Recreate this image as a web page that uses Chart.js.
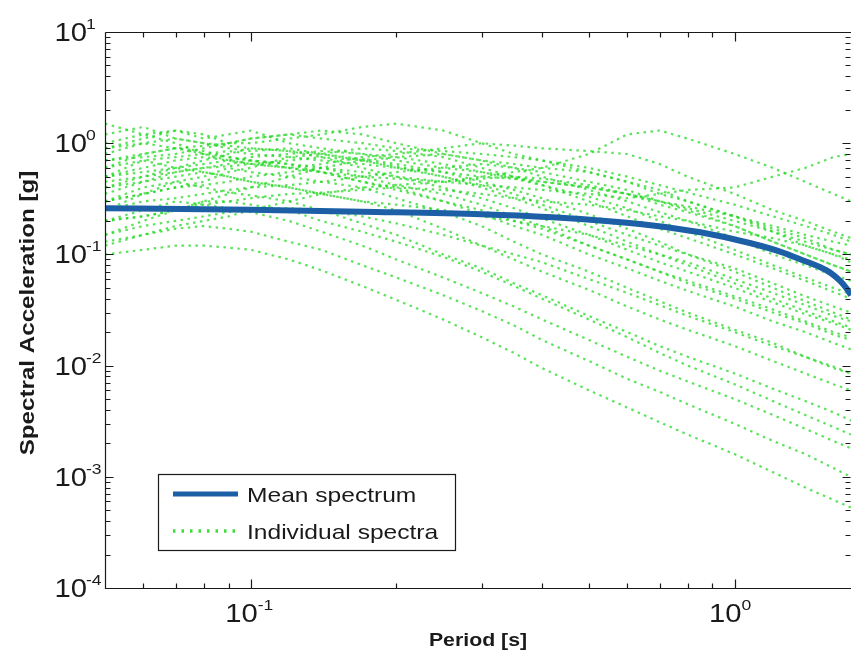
<!DOCTYPE html>
<html>
<head>
<meta charset="utf-8">
<script src="https://cdn.jsdelivr.net/npm/chart.js@4.4.1/dist/chart.umd.min.js"></script>
<style>
  html, body { margin: 0; padding: 0; background: #fff; }
  #wrap { width: 852px; height: 657px; }
</style>
</head>
<body>
<div id="wrap"><canvas id="spectraChart" width="852" height="657"></canvas></div>
<script>
// ==========================================
// DATA
// ==========================================
const periods = [0.05, 0.06, 0.07, 0.08, 0.09, 0.1, 0.12, 0.14, 0.17, 0.2, 0.25, 0.3,
                 0.35, 0.4, 0.5, 0.6, 0.7, 0.8, 1.0, 1.2, 1.4, 1.6, 1.74];

// individual records, spectral acceleration [g] at each period
const rec01 = [0.10, 0.11, 0.12, 0.12, 0.115, 0.11, 0.09, 0.072, 0.052, 0.039, 0.026, 0.018, 0.013, 0.0095, 0.006, 0.0042, 0.0031, 0.0024, 0.0016, 0.0011, 0.0008, 0.00062, 0.00053];
const rec02 = [0.13, 0.15, 0.17, 0.18, 0.17, 0.16, 0.13, 0.11, 0.08, 0.062, 0.043, 0.031, 0.023, 0.017, 0.011, 0.0076, 0.0058, 0.0045, 0.003, 0.0021, 0.0016, 0.0012, 0.001];
const rec03 = [0.2, 0.25, 0.3, 0.28, 0.26, 0.24, 0.2, 0.16, 0.12, 0.09, 0.062, 0.045, 0.034, 0.026, 0.017, 0.012, 0.009, 0.0072, 0.005, 0.0036, 0.0027, 0.0021, 0.0018];
const rec04 = [0.3, 0.4, 0.45, 0.4, 0.36, 0.34, 0.3, 0.25, 0.19, 0.15, 0.1, 0.075, 0.055, 0.043, 0.028, 0.02, 0.015, 0.012, 0.0085, 0.0062, 0.0048, 0.0038, 0.0032];
const rec05 = [0.5, 0.7, 0.6, 0.55, 0.5, 0.45, 0.4, 0.35, 0.3, 0.25, 0.17, 0.12, 0.09, 0.07, 0.048, 0.034, 0.026, 0.021, 0.015, 0.011, 0.0085, 0.0068, 0.006];
const rec06 = [0.25, 0.35, 0.45, 0.5, 0.6, 0.55, 0.5, 0.45, 0.4, 0.32, 0.24, 0.18, 0.13, 0.1, 0.07, 0.05, 0.038, 0.03, 0.021, 0.016, 0.012, 0.0098, 0.0085];
const rec07 = [0.8, 1.0, 0.9, 0.8, 0.75, 0.7, 0.65, 0.55, 0.45, 0.38, 0.3, 0.23, 0.18, 0.15, 0.1, 0.075, 0.058, 0.047, 0.034, 0.025, 0.02, 0.016, 0.014];
const rec08 = [0.4, 0.5, 0.6, 0.7, 0.8, 0.9, 0.85, 0.75, 0.6, 0.5, 0.4, 0.32, 0.26, 0.21, 0.15, 0.11, 0.085, 0.07, 0.05, 0.037, 0.029, 0.024, 0.021];
const rec09 = [1.2, 1.4, 1.1, 1.0, 0.9, 0.85, 0.9, 0.8, 0.7, 0.6, 0.5, 0.42, 0.35, 0.28, 0.2, 0.15, 0.12, 0.1, 0.075, 0.055, 0.042, 0.034, 0.03];
const rec10 = [0.3, 0.35, 0.4, 0.45, 0.55, 0.6, 0.75, 0.8, 0.9, 0.85, 0.75, 0.6, 0.5, 0.42, 0.3, 0.22, 0.17, 0.14, 0.1, 0.075, 0.058, 0.046, 0.04];
const rec11 = [0.6, 0.8, 0.9, 0.95, 1.0, 1.1, 1.2, 1.3, 1.2, 1.0, 0.8, 0.7, 0.6, 0.5, 0.38, 0.3, 0.24, 0.2, 0.14, 0.1, 0.08, 0.065, 0.058];
const rec12 = [0.9, 1.1, 1.3, 1.2, 1.0, 1.0, 1.1, 1.2, 1.4, 1.5, 1.3, 1.0, 0.8, 0.7, 0.55, 0.45, 0.35, 0.3, 0.22, 0.16, 0.12, 0.1, 0.085];
const rec13 = [0.15, 0.2, 0.25, 0.3, 0.35, 0.4, 0.5, 0.6, 0.7, 0.75, 0.8, 0.7, 0.65, 0.6, 0.55, 0.45, 0.38, 0.3, 0.22, 0.17, 0.14, 0.11, 0.1];
const rec14 = [0.5, 0.6, 0.7, 0.75, 0.7, 0.65, 0.6, 0.65, 0.75, 0.8, 0.9, 1.0, 0.95, 0.9, 0.85, 0.8, 0.65, 0.5, 0.35, 0.25, 0.2, 0.16, 0.14];
const rec15 = [1.5, 1.2, 1.0, 0.8, 0.7, 0.65, 0.6, 0.55, 0.5, 0.48, 0.45, 0.5, 0.55, 0.6, 0.8, 1.2, 1.3, 1.1, 0.8, 0.6, 0.45, 0.35, 0.3];
const rec16 = [0.3, 0.35, 0.4, 0.42, 0.45, 0.5, 0.55, 0.6, 0.55, 0.5, 0.45, 0.42, 0.4, 0.38, 0.35, 0.32, 0.35, 0.38, 0.4, 0.5, 0.6, 0.75, 0.8];
const rec17 = [0.2, 0.22, 0.25, 0.28, 0.3, 0.32, 0.35, 0.36, 0.38, 0.4, 0.38, 0.35, 0.32, 0.3, 0.28, 0.25, 0.22, 0.2, 0.16, 0.14, 0.12, 0.1, 0.09];
const rec18 = [0.7, 0.8, 0.9, 0.85, 0.75, 0.7, 0.65, 0.6, 0.5, 0.42, 0.35, 0.28, 0.22, 0.18, 0.12, 0.09, 0.07, 0.055, 0.04, 0.03, 0.024, 0.019, 0.017];
const rec19 = [0.4, 0.45, 0.5, 0.55, 0.5, 0.45, 0.4, 0.35, 0.3, 0.28, 0.25, 0.22, 0.2, 0.18, 0.15, 0.12, 0.1, 0.085, 0.06, 0.045, 0.035, 0.028, 0.025];
const rec20 = [1.0, 1.2, 1.3, 1.1, 1.2, 1.3, 1.0, 0.9, 0.8, 0.7, 0.6, 0.55, 0.5, 0.45, 0.4, 0.35, 0.28, 0.24, 0.18, 0.13, 0.1, 0.08, 0.07];
const rec21 = [0.35, 0.45, 0.55, 0.6, 0.65, 0.7, 0.6, 0.55, 0.45, 0.4, 0.3, 0.25, 0.2, 0.17, 0.12, 0.09, 0.07, 0.058, 0.042, 0.032, 0.025, 0.02, 0.018];
const rec22 = [0.5, 0.55, 0.6, 0.65, 0.7, 0.75, 0.8, 0.85, 0.8, 0.75, 0.65, 0.55, 0.48, 0.42, 0.33, 0.26, 0.2, 0.16, 0.11, 0.08, 0.062, 0.05, 0.044];
const rec23 = [0.25, 0.3, 0.32, 0.35, 0.38, 0.4, 0.42, 0.45, 0.5, 0.55, 0.6, 0.65, 0.6, 0.55, 0.45, 0.38, 0.3, 0.25, 0.18, 0.13, 0.1, 0.08, 0.07];
const rec24 = [0.15, 0.18, 0.2, 0.22, 0.24, 0.25, 0.26, 0.25, 0.22, 0.19, 0.15, 0.12, 0.1, 0.085, 0.06, 0.045, 0.035, 0.028, 0.02, 0.015, 0.012, 0.0095, 0.0085];
const rec25 = [0.6, 0.7, 0.75, 0.8, 0.85, 0.8, 0.75, 0.7, 0.65, 0.6, 0.55, 0.5, 0.48, 0.45, 0.4, 0.35, 0.3, 0.27, 0.22, 0.18, 0.15, 0.13, 0.12];
const rec26 = [0.45, 0.5, 0.55, 0.6, 0.62, 0.65, 0.7, 0.75, 0.7, 0.62, 0.5, 0.4, 0.32, 0.26, 0.18, 0.13, 0.1, 0.08, 0.055, 0.04, 0.031, 0.025, 0.022];
const rec27 = [0.12, 0.15, 0.18, 0.2, 0.22, 0.25, 0.3, 0.35, 0.4, 0.42, 0.45, 0.48, 0.5, 0.48, 0.42, 0.35, 0.3, 0.26, 0.2, 0.16, 0.13, 0.11, 0.1];
const rec28 = [0.9, 1.0, 1.1, 1.0, 0.95, 0.9, 0.85, 0.8, 0.72, 0.65, 0.55, 0.45, 0.38, 0.32, 0.23, 0.17, 0.13, 0.1, 0.07, 0.05, 0.038, 0.03, 0.026];
const rec29 = [0.2, 0.22, 0.25, 0.3, 0.3, 0.28, 0.25, 0.2, 0.16, 0.13, 0.095, 0.07, 0.052, 0.04, 0.026, 0.018, 0.013, 0.01, 0.0068, 0.0048, 0.0036, 0.0028, 0.0024];
const rec30 = [0.7, 0.75, 0.8, 0.9, 1.0, 1.1, 1.2, 1.1, 1.0, 0.9, 0.85, 0.8, 0.75, 0.7, 0.6, 0.5, 0.42, 0.36, 0.28, 0.22, 0.18, 0.15, 0.13];
const records = [rec01, rec02, rec03, rec04, rec05, rec06, rec07, rec08, rec09, rec10,
                 rec11, rec12, rec13, rec14, rec15, rec16, rec17, rec18, rec19, rec20,
                 rec21, rec22, rec23, rec24, rec25, rec26, rec27, rec28, rec29, rec30];

// mean spectrum
const meanPeriods = [0.05, 0.08, 0.1, 0.17, 0.3, 0.42, 0.55, 0.67, 0.85, 1.08, 1.25, 1.37, 1.5, 1.58, 1.65, 1.7, 1.74];
const meanValues  = [0.26, 0.255, 0.252, 0.242, 0.23, 0.216, 0.199, 0.183, 0.158, 0.126, 0.105, 0.09, 0.077, 0.068, 0.058, 0.050, 0.043];

// axes and ticks
const xMin = 0.05, xMax = 1.74;
const yMin = 1e-4, yMax = 10;
const xMajorTicks = [0.1, 1];
const xTickExponents = ["-1", "0"];
const xMinorTicks = [0.06, 0.07, 0.08, 0.09, 0.2, 0.3, 0.4, 0.5, 0.6, 0.7, 0.8, 0.9];
const yMajorTicks = [1e-4, 1e-3, 1e-2, 1e-1, 1, 10];
const yTickExponents = ["-4", "-3", "-2", "-1", "0", "1"];
const yMinorMultipliers = [2, 3, 4, 5, 6, 7, 8, 9];

const legendLabels = ["Mean spectrum", "Individual spectra"];
const xTitle = "Period [s]";
const yTitle = "Spectral Acceleration [g]";

// ==========================================
// STYLE
// ==========================================
const FONT = '"Liberation Sans", Arial, sans-serif';
const MEAN_COLOR = "#1d5fa6";
const REC_COLOR = "rgba(30,215,30,0.72)";
const SX = 1.17; // text in the picture is a bit wide

function wideText(ctx, text, x, y, align, sx) {
  ctx.save();
  ctx.translate(x, y);
  ctx.scale(sx, 1);
  ctx.textAlign = align;
  ctx.fillText(text, 0, 0);
  ctx.restore();
}

// frame, inward ticks, labels, titles and legend
const decorPlugin = {
  id: "decor",
  afterDatasetsDraw(chart) {
    const ctx = chart.ctx;
    const xs = chart.scales.x, ys = chart.scales.y;
    const a = chart.chartArea;
    const L = Math.round(a.left) + 0.5, R = Math.round(a.right) - 0.5;
    const T = Math.round(a.top) + 0.5, B = Math.round(a.bottom) + 0.5;

    ctx.save();
    ctx.strokeStyle = "#1a1a1a";
    ctx.lineWidth = 1.2;
    ctx.beginPath();
    ctx.moveTo(L, T); ctx.lineTo(a.right, T);
    ctx.moveTo(L, T); ctx.lineTo(L, B); ctx.lineTo(a.right, B);
    ctx.stroke();

    ctx.beginPath();
    const xTick = (v, len) => {
      const px = Math.round(xs.getPixelForValue(v)) + 0.5;
      ctx.moveTo(px, B); ctx.lineTo(px, B - len);
      ctx.moveTo(px, T); ctx.lineTo(px, T + len);
    };
    const yTick = (v, len) => {
      const py = Math.round(ys.getPixelForValue(v)) + 0.5;
      ctx.moveTo(L, py); ctx.lineTo(L + len, py);
      ctx.moveTo(R, py); ctx.lineTo(R - len, py);
    };
    xMajorTicks.forEach(v => xTick(v, 9));
    xMinorTicks.forEach(v => xTick(v, 5));
    yMajorTicks.forEach(v => yTick(v, 8));
    yMajorTicks.slice(0, -1).forEach(d => yMinorMultipliers.forEach(m => yTick(d * m, 5)));
    ctx.stroke();

    // tick labels 10^n
    ctx.fillStyle = "#1a1a1a";
    ctx.textBaseline = "alphabetic";
    xMajorTicks.forEach((v, i) => {
      const px = xs.getPixelForValue(v);
      ctx.font = "25px " + FONT;
      wideText(ctx, "10", px + 7, 622, "right", SX);
      ctx.font = "15px " + FONT;
      wideText(ctx, xTickExponents[i], px + 7, 610, "left", SX);
    });
    yMajorTicks.forEach((v, i) => {
      const py = ys.getPixelForValue(v);
      ctx.font = "25px " + FONT;
      wideText(ctx, "10", 87, py + 9, "right", SX);
      ctx.font = "15px " + FONT;
      wideText(ctx, yTickExponents[i], 86, py - 3, "left", SX);
    });

    // axis titles
    ctx.font = "bold 19px " + FONT;
    wideText(ctx, xTitle, (a.left + a.right) / 2, 646, "center", 1.12);
    ctx.save();
    ctx.translate(34, 313);
    ctx.rotate(-Math.PI / 2);
    ctx.font = "bold 21px " + FONT;
    wideText(ctx, yTitle, 0, 0, "center", 1.15);
    ctx.restore();

    // legend box
    const bx = 158.5, by = 474.5, bw = 297, bh = 76;
    ctx.fillStyle = "#fff";
    ctx.fillRect(bx, by, bw, bh);
    ctx.strokeStyle = "#1a1a1a";
    ctx.lineWidth = 1.2;
    ctx.strokeRect(bx, by, bw, bh);

    ctx.lineCap = "butt";
    ctx.strokeStyle = MEAN_COLOR;
    ctx.lineWidth = 5;
    ctx.beginPath(); ctx.moveTo(173, 494); ctx.lineTo(238, 494); ctx.stroke();
    ctx.strokeStyle = "rgba(30,215,30,0.85)";
    ctx.lineWidth = 3.5;
    ctx.setLineDash([2.5, 6]);
    ctx.beginPath(); ctx.moveTo(173, 531); ctx.lineTo(238, 531); ctx.stroke();
    ctx.setLineDash([]);

    ctx.fillStyle = "#1a1a1a";
    ctx.font = "21px " + FONT;
    wideText(ctx, legendLabels[0], 247, 502, "left", SX);
    wideText(ctx, legendLabels[1], 247, 539, "left", SX);
    ctx.restore();
  }
};

// ==========================================
// CHART
// ==========================================
const datasets = [{
  label: legendLabels[0],
  data: meanPeriods.map((p, i) => ({ x: p, y: meanValues[i] })),
  borderColor: MEAN_COLOR,
  borderWidth: 6,
  pointRadius: 0,
  cubicInterpolationMode: "monotone",
  fill: false
}];
records.forEach((rec, k) => {
  datasets.push({
    label: legendLabels[1] + " " + (k + 1),
    data: periods.map((p, i) => ({ x: p, y: rec[i] })),
    borderColor: REC_COLOR,
    borderWidth: 2.2,
    borderDash: [2.5, 4.5],
    pointRadius: 0,
    tension: 0,
    fill: false
  });
});

new Chart(document.getElementById("spectraChart").getContext("2d"), {
  type: "line",
  data: { datasets: datasets },
  options: {
    responsive: false,
    animation: false,
    layout: { padding: { left: 105, top: 32, right: 1, bottom: 69 } },
    plugins: { legend: { display: false }, tooltip: { enabled: false } },
    scales: {
      x: { type: "logarithmic", min: xMin, max: xMax, display: false },
      y: { type: "logarithmic", min: yMin, max: yMax, display: false }
    }
  },
  plugins: [decorPlugin]
});
</script>
</body>
</html>
